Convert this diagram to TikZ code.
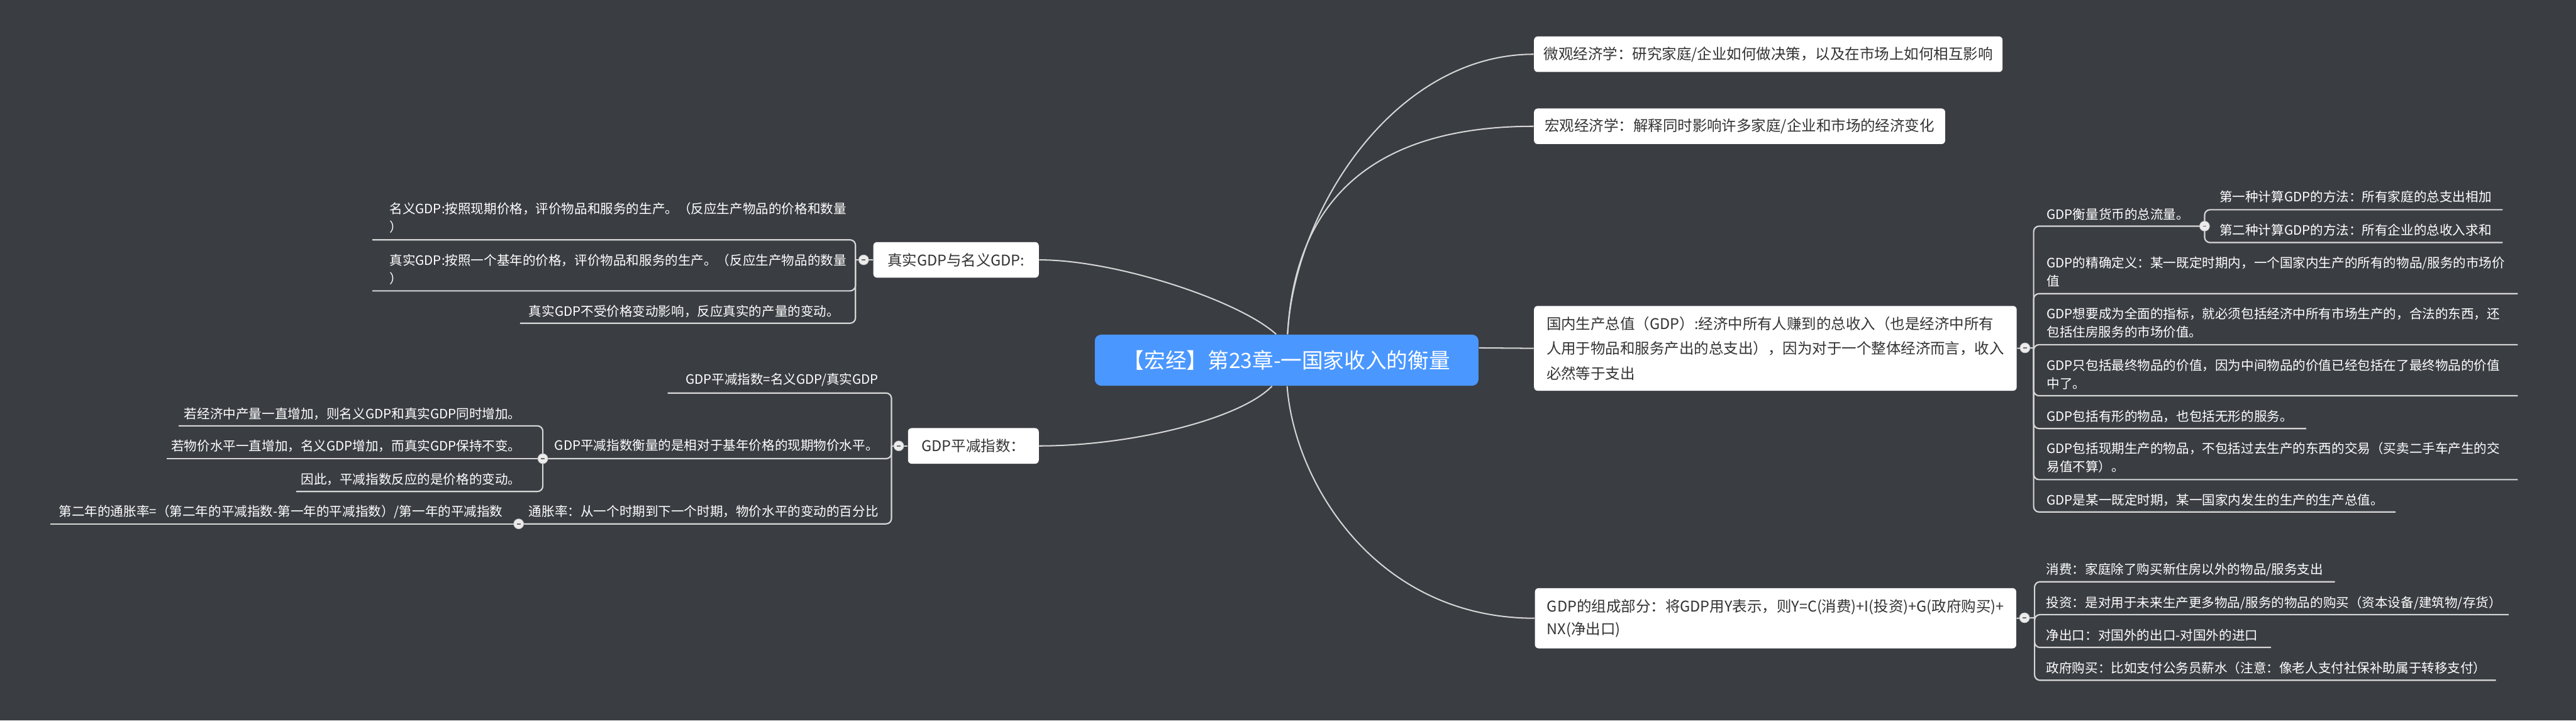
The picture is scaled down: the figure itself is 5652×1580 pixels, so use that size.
\documentclass[tikz,border=0pt]{standalone}
\usepackage{fontspec}
\setmainfont{Noto Sans CJK SC}
\usetikzlibrary{calc}
\definecolor{bgc}{RGB}{58,61,66}
\definecolor{blu}{RGB}{74,151,255}
\definecolor{linec}{RGB}{214,214,214}
\definecolor{dtext}{RGB}{51,51,51}
\definecolor{btnf}{RGB}{236,236,236}
\definecolor{btne}{RGB}{190,190,190}
\definecolor{minusc}{RGB}{105,105,105}
\pgfdeclarelayer{back}
\pgfdeclarelayer{lines}
\pgfsetlayers{back,lines,main}
\tikzset{
  rootbox/.style={fill=blu, text=white, rounded corners=3.5pt, minimum width=210.5pt, minimum height=28pt, inner sep=0pt, font=\fontsize{11.6}{14}\selectfont},
  topic/.style={fill=white, text=dtext, rounded corners=2pt, inner sep=0pt, minimum height=19.5pt, font=\fontsize{8.1}{13.6}\selectfont},
  leaf/.style={text=white, inner sep=0pt, align=left, font=\fontsize{7.1}{10}\selectfont},
  branch/.style={draw=linec, line width=0.75pt, rounded corners=3pt},
  curve/.style={draw=linec, line width=0.7pt},
  btn/.style={circle, fill=btnf, draw=btne, line width=0.25pt, minimum size=5.5pt, inner sep=0pt,
    path picture={\draw[minusc, line width=0.6pt] ([xshift=-1pt]path picture bounding box.center) -- ([xshift=1pt]path picture bounding box.center);}}
}
\begin{document}
\begin{tikzpicture}[x=0.25pt,y=-0.25pt]
\useasboundingbox (0,0) rectangle (5652,1580);
\begin{pgfonlayer}{back}
\fill[bgc] (0,0) rectangle (5652,1580);
\end{pgfonlayer}

% central topic
\node[rootbox] (ctr) at (2823,790) {【宏经】第23章-一国家收入的衡量};

% main topics
\node[topic, anchor=west, minimum width=257pt] (micro) at (3365,119) {微观经济学：研究家庭/企业如何做决策，以及在市场上如何相互影响};
\node[topic, anchor=west, minimum width=225.5pt] (macro) at (3365,277) {宏观经济学：解释同时影响许多家庭/企业和市场的经济变化};
\node[topic, anchor=west, minimum width=264.75pt, minimum height=46.5pt, align=left] (gdp) at (3365,764) {国内生产总值（GDP）:经济中所有人赚到的总收入（也是经济中所有\\人用于物品和服务产出的总支出），因为对于一个整体经济而言，收入\\必然等于支出};
\node[topic, anchor=west, minimum width=264pt, minimum height=33pt, align=left, font=\fontsize{8.1}{12.5}\selectfont] (comp) at (3367,1356) {GDP的组成部分：将GDP用Y表示，则Y=C(消费)+I(投资)+G(政府购买)+\\NX(净出口)};
\node[topic, anchor=east, minimum width=90.75pt] (real) at (2280,570) {真实GDP与名义GDP:};
\node[topic, anchor=east, minimum width=71.75pt] (defl) at (2280,978) {GDP平减指数：};

% collapse buttons
\node[btn] (gdpb) at (4443,763) {};
\node[btn] (g1b) at (4837,496) {};
\node[btn] (compb) at (4442,1355) {};
\node[btn] (realb) at (1895,570) {};
\node[btn] (deflb) at (1972,978) {};
\node[btn] (d2b) at (1191,1006) {};
\node[btn] (d3b) at (1138,1149) {};

% junctions and underline ends
\coordinate (gdpJ) at (4462,763);
\coordinate (compJ) at (4464,1355);
\coordinate (realJ) at (1877,570);
\coordinate (deflJ) at (1956,978);
\coordinate (g1ae) at (5491,460);
\coordinate (g1be) at (5491,532);
\coordinate (g2e) at (5524,644);
\coordinate (g3e) at (5524,756);
\coordinate (g4e) at (5524,868);
\coordinate (g5e) at (5060,940);
\coordinate (g6e) at (5524,1052);
\coordinate (g7e) at (5256,1123);
\coordinate (c1e) at (5123,1276);
\coordinate (c2e) at (5504,1348);
\coordinate (c3e) at (4983,1420);
\coordinate (c4e) at (5476,1492);
\coordinate (r1e) at (817,526);
\coordinate (r2e) at (817,638);
\coordinate (r3e) at (1141,709);
\coordinate (d1e) at (1465,862);
\coordinate (d2ae) at (392,934);
\coordinate (d2be) at (365,1006);
\coordinate (d2ce) at (650,1078);
\coordinate (d3ae) at (111,1149);

% leaves: GDP
\node[leaf, anchor=west] (g1) at (4490,470) {GDP衡量货币的总流量。};
\node[leaf, anchor=west] (g1a) at (4869,432) {第一种计算GDP的方法：所有家庭的总支出相加};
\node[leaf, anchor=west] (g1bt) at (4869,504) {第二种计算GDP的方法：所有企业的总收入求和};
\node[leaf, anchor=west] (g2) at (4490,596) {GDP的精确定义：某一既定时期内，一个国家内生产的所有的物品/服务的市场价\\值};
\node[leaf, anchor=west] (g3) at (4490,708) {GDP想要成为全面的指标，就必须包括经济中所有市场生产的，合法的东西，还\\包括住房服务的市场价值。};
\node[leaf, anchor=west] (g4) at (4490,821) {GDP只包括最终物品的价值，因为中间物品的价值已经包括在了最终物品的价值\\中了。};
\node[leaf, anchor=west] (g5) at (4490,913) {GDP包括有形的物品，也包括无形的服务。};
\node[leaf, anchor=west] (g6) at (4490,1004) {GDP包括现期生产的物品，不包括过去生产的东西的交易（买卖二手车产生的交\\易值不算）。};
\node[leaf, anchor=west] (g7) at (4490,1097) {GDP是某一既定时期，某一国家内发生的生产的生产总值。};

% leaves: components
\node[leaf, anchor=west] (c1) at (4489,1250) {消费：家庭除了购买新住房以外的物品/服务支出};
\node[leaf, anchor=west] (c2) at (4489,1322) {投资：是对用于未来生产更多物品/服务的物品的购买（资本设备/建筑物/存货）};
\node[leaf, anchor=west] (c3) at (4489,1393) {净出口：对国外的出口-对国外的进口};
\node[leaf, anchor=west] (c4) at (4489,1465) {政府购买：比如支付公务员薪水（注意：像老人支付社保补助属于转移支付）};

% leaves: real vs nominal
\node[leaf, anchor=west] (r1) at (854,478) {名义GDP:按照现期价格，评价物品和服务的生产。（反应生产物品的价格和数量\\）};
\node[leaf, anchor=west] (r2) at (854,591) {真实GDP:按照一个基年的价格，评价物品和服务的生产。（反应生产物品的数量\\）};
\node[leaf, anchor=east] (r3) at (1843,683) {真实GDP不受价格变动影响，反应真实的产量的变动。};

% leaves: deflator
\node[leaf, anchor=east] (d1) at (1928,833) {GDP平减指数=名义GDP/真实GDP};
\node[leaf, anchor=east] (d2) at (1928,977) {GDP平减指数衡量的是相对于基年价格的现期物价水平。};
\node[leaf, anchor=east] (d3) at (1928,1122) {通胀率：从一个时期到下一个时期，物价水平的变动的百分比};
\node[leaf, anchor=east] (d2a) at (1144,908) {若经济中产量一直增加，则名义GDP和真实GDP同时增加。};
\node[leaf, anchor=east] (d2bt) at (1144,978) {若物价水平一直增加，名义GDP增加，而真实GDP保持不变。};
\node[leaf, anchor=east] (d2c) at (1144,1051) {因此，平减指数反应的是价格的变动。};
\node[leaf, anchor=east] (d3a) at (1104,1122) {第二年的通胀率=（第二年的平减指数-第一年的平减指数）/第一年的平减指数};

\begin{pgfonlayer}{lines}
% curves from the central topic
\draw[curve] ($(ctr.north)+(2,0)$) .. controls (2840,460) and (3060,119) .. (micro.west);
\draw[curve] ($(ctr.north)+(2,0)$) .. controls (2840,460) and (2990,277) .. (macro.west);
\draw[curve] ($(ctr.north)+(-23,0)$) .. controls (2720,660) and (2450,570) .. (real.east);
\draw[curve] ($(ctr.east)+(0,-27)$) -- (gdp.west);
\draw[curve] ($(ctr.south)+(-32,0)$) .. controls (2720,920) and (2480,978) .. (defl.east);
\draw[curve] ($(ctr.south)+(1,0)$) .. controls (2840,1060) and (3020,1356) .. (comp.west);

% GDP tree
\draw[branch] (gdp.east) -- (gdpJ);
\draw[branch] (gdpJ) |- (g1b.center);
\draw[branch] (gdpJ) |- (g2e);
\draw[branch] (gdpJ) |- (g3e);
\draw[branch] (gdpJ) |- (g4e);
\draw[branch] (gdpJ) |- (g5e);
\draw[branch] (gdpJ) |- (g6e);
\draw[branch] (gdpJ) |- (g7e);
\draw[branch] (g1b.center) |- (g1ae);
\draw[branch] (g1b.center) |- (g1be);

% components tree
\draw[branch] (comp.east) -- (compJ);
\draw[branch] (compJ) |- (c1e);
\draw[branch] (compJ) |- (c2e);
\draw[branch] (compJ) |- (c3e);
\draw[branch] (compJ) |- (c4e);

% real vs nominal tree
\draw[branch] (real.west) -- (realJ);
\draw[branch] (realJ) |- (r1e);
\draw[branch] (realJ) |- (r2e);
\draw[branch] (realJ) |- (r3e);

% deflator tree
\draw[branch] (defl.west) -- (deflJ);
\draw[branch] (deflJ) |- (d1e);
\draw[branch] (deflJ) |- (d2b.center);
\draw[branch] (deflJ) |- (d3b.center);
\draw[branch] (d2b.center) |- (d2ae);
\draw[branch] (d2b.center) -- (d2be);
\draw[branch] (d2b.center) |- (d2ce);
\draw[branch] (d3b.center) -- (d3ae);
\end{pgfonlayer}
\end{tikzpicture}
\end{document}
